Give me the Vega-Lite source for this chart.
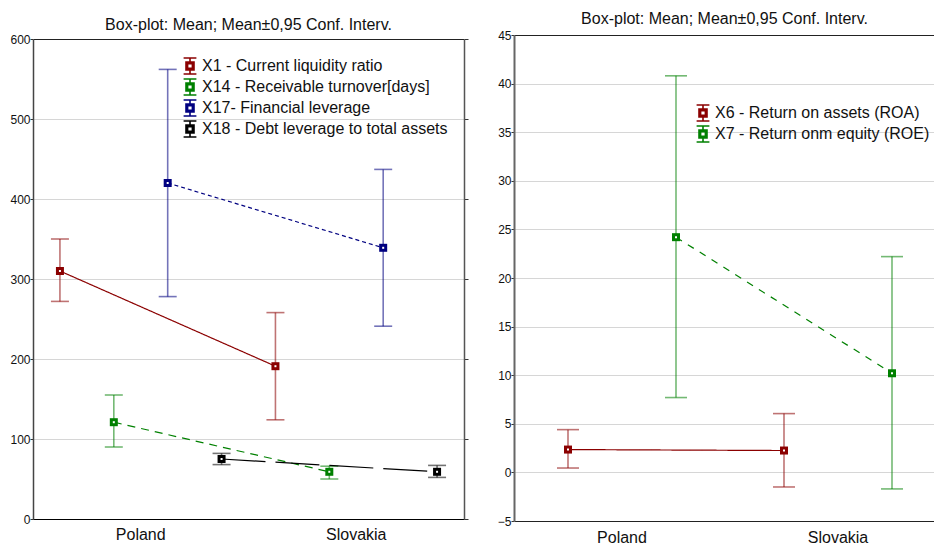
{
  "$schema": "https://vega.github.io/schema/vega-lite/v6.json",
  "background": "white",
  "padding": {"left": 9, "top": 11, "right": 0, "bottom": 0},
  "spacing": 28,
  "config": {
    "font": "Liberation Sans",
    "view": {"stroke": null},
    "axis": {"labelFont": "Liberation Sans", "labelColor": "#111", "tickColor": "#333"},
    "title": {"font": "Liberation Sans", "fontWeight": "normal", "color": "#111"},
    "legend": {"labelFontWeight": "normal"}
  },
  "hconcat": [
    {
      "width": 431,
      "height": 484,
      "title": {"text": "Box-plot: Mean; Mean±0,95 Conf. Interv.", "fontSize": 16, "offset": 4, "dy": 4},
      "data": {"values": [
        {"country": "Poland", "series": "X1 - Current liquidity ratio", "mean": 310, "lo": 272, "hi": 350},
        {"country": "Slovakia", "series": "X1 - Current liquidity ratio", "mean": 191, "lo": 124, "hi": 258},
        {"country": "Poland", "series": "X14 - Receivable turnover[days]", "mean": 121, "lo": 90, "hi": 155},
        {"country": "Slovakia", "series": "X14 - Receivable turnover[days]", "mean": 59, "lo": 50, "hi": 66},
        {"country": "Poland", "series": "X17- Financial leverage", "mean": 420, "lo": 278, "hi": 562},
        {"country": "Slovakia", "series": "X17- Financial leverage", "mean": 339, "lo": 241, "hi": 437},
        {"country": "Poland", "series": "X18 - Debt leverage to total assets", "mean": 75, "lo": 68, "hi": 82},
        {"country": "Slovakia", "series": "X18 - Debt leverage to total assets", "mean": 59, "lo": 52, "hi": 67}
      ]},
      "encoding": {
        "x": {"field": "country", "type": "nominal", "sort": ["Poland", "Slovakia"], "scale": {"paddingInner": 0, "paddingOuter": 0},
              "axis": {"title": null, "labelAngle": 0, "labelFontSize": 16, "tickSize": 0, "labelPadding": 7, "domainColor": "#000", "grid": false}},
        "xOffset": {"field": "series", "type": "nominal", "scale": {"domain": ["X1 - Current liquidity ratio", "X14 - Receivable turnover[days]", "X17- Financial leverage", "X18 - Debt leverage to total assets"], "paddingInner": 0, "paddingOuter": 0}}
      },
      "layer": [
        {
          "mark": {"type": "rule", "strokeWidth": 1.6, "opacity": 0.55},
          "encoding": {
            "y": {"field": "lo", "type": "quantitative", "title": null, "scale": {"domain": [0, 600], "nice": false, "zero": false, "range": [484, 4]},
                  "axis": {"values": [0, 100, 200, 300, 400, 500, 600], "grid": true, "gridColor": {"condition": {"test": "datum.value === 600 || datum.value === 0", "value": "#222"}, "value": "#d6d6d6"}, "labelFontSize": 12, "tickSize": 3, "labelPadding": 0, "domainColor": "#444", "domainWidth": 1.5}},
            "y2": {"field": "hi"},
            "color": {"field": "series", "type": "nominal", "scale": {"domain": ["X1 - Current liquidity ratio", "X14 - Receivable turnover[days]", "X17- Financial leverage", "X18 - Debt leverage to total assets"], "range": ["#8b0000", "#008000", "#000080", "#000000"]},
                      "legend": {"orient": "none", "legendX": 148, "legendY": 22, "title": null, "labelFontSize": 16, "labelColor": "#111", "labelOffset": 3, "rowPadding": -3, "padding": 0, "symbolType": "M-0.5,-0.5H0.5V0.5H-0.5Z M-0.3,-0.3H0.3V0.3H-0.3Z M0,-1V-0.5 M0,0.5V1 M-0.8,-1H0.8 M-0.8,1H0.8", "symbolSize": 256, "symbolStrokeWidth": 1.6, "symbolOpacity": 1, "labelLimit": 400}}
          }
        },
        {
          "mark": {"type": "tick", "orient": "horizontal", "size": 18, "thickness": 1.6, "opacity": 0.55},
          "encoding": {
            "y": {"field": "lo", "type": "quantitative", "title": null, "axis": null},
            "color": {"field": "series", "type": "nominal", "legend": null, "scale": {"domain": ["X1 - Current liquidity ratio", "X14 - Receivable turnover[days]", "X17- Financial leverage", "X18 - Debt leverage to total assets"], "range": ["#8b0000", "#008000", "#000080", "#000000"]}}
          }
        },
        {
          "mark": {"type": "tick", "orient": "horizontal", "size": 18, "thickness": 1.6, "opacity": 0.55},
          "encoding": {
            "y": {"field": "hi", "type": "quantitative", "title": null, "axis": null},
            "color": {"field": "series", "type": "nominal", "legend": null, "scale": {"domain": ["X1 - Current liquidity ratio", "X14 - Receivable turnover[days]", "X17- Financial leverage", "X18 - Debt leverage to total assets"], "range": ["#8b0000", "#008000", "#000080", "#000000"]}}
          }
        },
        {
          "mark": {"type": "line", "strokeWidth": 1.2},
          "encoding": {
            "y": {"field": "mean", "type": "quantitative", "title": null, "axis": null},
            "color": {"field": "series", "type": "nominal", "legend": null, "scale": {"domain": ["X1 - Current liquidity ratio", "X14 - Receivable turnover[days]", "X17- Financial leverage", "X18 - Debt leverage to total assets"], "range": ["#8b0000", "#008000", "#000080", "#000000"]}},
            "strokeDash": {"field": "series", "type": "nominal", "legend": null, "scale": {"domain": ["X1 - Current liquidity ratio", "X14 - Receivable turnover[days]", "X17- Financial leverage", "X18 - Debt leverage to total assets"], "range": [[1, 0], [8, 6], [4, 3], [44, 10]]}}
          }
        },
        {
          "mark": {"type": "point", "shape": "square", "filled": true, "size": 64, "opacity": 1},
          "encoding": {
            "y": {"field": "mean", "type": "quantitative", "title": null, "axis": null},
            "color": {"field": "series", "type": "nominal", "legend": null, "scale": {"domain": ["X1 - Current liquidity ratio", "X14 - Receivable turnover[days]", "X17- Financial leverage", "X18 - Debt leverage to total assets"], "range": ["#8b0000", "#008000", "#000080", "#000000"]}}
          }
        },
        {
          "mark": {"type": "point", "shape": "square", "filled": true, "size": 4, "color": "white", "opacity": 1},
          "encoding": {
            "y": {"field": "mean", "type": "quantitative", "title": null,
                  "axis": {"orient": "right", "values": [0, 100, 200, 300, 400, 500, 600], "labels": false, "tickSize": 4, "tickColor": "#333", "domain": true, "domainColor": "#555", "domainWidth": 1.5, "grid": false}}
          }
        }
      ],
      "resolve": {"scale": {"color": "independent", "strokeDash": "independent"}, "axis": {"y": "independent"}}
    },
    {
      "width": 421,
      "height": 486,
      "title": {"text": "Box-plot: Mean; Mean±0,95 Conf. Interv.", "fontSize": 16, "offset": 4, "dy": 2, "frame": "group"},
      "data": {"values": [
        {"country": "Poland", "series": "X6 - Return on assets (ROA)", "mean": 2.35, "lo": 0.45, "hi": 4.4},
        {"country": "Slovakia", "series": "X6 - Return on assets (ROA)", "mean": 2.25, "lo": -1.5, "hi": 6.05},
        {"country": "Poland", "series": "X7 - Return onm equity (ROE)", "mean": 24.2, "lo": 7.7, "hi": 40.8},
        {"country": "Slovakia", "series": "X7 - Return onm equity (ROE)", "mean": 10.2, "lo": -1.7, "hi": 22.2}
      ]},
      "encoding": {
        "x": {"field": "country", "type": "nominal", "sort": ["Poland", "Slovakia"], "scale": {"paddingInner": 0, "paddingOuter": 0, "range": [0, 432]},
              "axis": {"title": null, "labelAngle": 0, "labelFontSize": 16, "tickSize": 0, "labelPadding": 8, "domain": false, "grid": false}},
        "xOffset": {"field": "series", "type": "nominal", "scale": {"domain": ["X6 - Return on assets (ROA)", "X7 - Return onm equity (ROE)"], "paddingInner": 0, "paddingOuter": 0}}
      },
      "layer": [
        {
          "mark": {"type": "rule", "strokeWidth": 1.6, "opacity": 0.55},
          "encoding": {
            "y": {"field": "lo", "type": "quantitative", "title": null, "scale": {"domain": [-5, 45], "nice": false, "zero": false},
                  "axis": {"values": [-5, 0, 5, 10, 15, 20, 25, 30, 35, 40, 45], "grid": true, "gridColor": {"condition": {"test": "datum.value === 45 || datum.value === -5", "value": "#222"}, "value": "#d6d6d6"}, "labelFontSize": 12, "tickSize": 3, "labelPadding": 0, "domainColor": "#666", "domainWidth": 2}},
            "y2": {"field": "hi"},
            "color": {"field": "series", "type": "nominal", "scale": {"domain": ["X6 - Return on assets (ROA)", "X7 - Return onm equity (ROE)"], "range": ["#8b0000", "#008000"]},
                      "legend": {"orient": "none", "legendX": 180, "legendY": 69, "title": null, "labelFontSize": 16, "labelColor": "#111", "labelOffset": 3, "rowPadding": -4, "padding": 0, "symbolType": "M-0.5,-0.5H0.5V0.5H-0.5Z M-0.3,-0.3H0.3V0.3H-0.3Z M0,-1V-0.5 M0,0.5V1 M-0.8,-1H0.8 M-0.8,1H0.8", "symbolSize": 256, "symbolStrokeWidth": 1.6, "symbolOpacity": 1, "labelLimit": 400}}
          }
        },
        {
          "mark": {"type": "tick", "orient": "horizontal", "size": 22, "thickness": 1.6, "opacity": 0.55},
          "encoding": {
            "y": {"field": "lo", "type": "quantitative", "title": null},
            "color": {"field": "series", "type": "nominal", "legend": null, "scale": {"domain": ["X6 - Return on assets (ROA)", "X7 - Return onm equity (ROE)"], "range": ["#8b0000", "#008000"]}}
          }
        },
        {
          "mark": {"type": "tick", "orient": "horizontal", "size": 22, "thickness": 1.6, "opacity": 0.55},
          "encoding": {
            "y": {"field": "hi", "type": "quantitative", "title": null},
            "color": {"field": "series", "type": "nominal", "legend": null, "scale": {"domain": ["X6 - Return on assets (ROA)", "X7 - Return onm equity (ROE)"], "range": ["#8b0000", "#008000"]}}
          }
        },
        {
          "mark": {"type": "line", "strokeWidth": 1.2},
          "encoding": {
            "y": {"field": "mean", "type": "quantitative", "title": null},
            "color": {"field": "series", "type": "nominal", "legend": null, "scale": {"domain": ["X6 - Return on assets (ROA)", "X7 - Return onm equity (ROE)"], "range": ["#8b0000", "#008000"]}},
            "strokeDash": {"field": "series", "type": "nominal", "legend": null, "scale": {"domain": ["X6 - Return on assets (ROA)", "X7 - Return onm equity (ROE)"], "range": [[1, 0], [7, 7]]}}
          }
        },
        {
          "mark": {"type": "point", "shape": "square", "filled": true, "size": 64, "opacity": 1},
          "encoding": {
            "y": {"field": "mean", "type": "quantitative", "title": null},
            "color": {"field": "series", "type": "nominal", "legend": null, "scale": {"domain": ["X6 - Return on assets (ROA)", "X7 - Return onm equity (ROE)"], "range": ["#8b0000", "#008000"]}}
          }
        },
        {
          "mark": {"type": "point", "shape": "square", "filled": true, "size": 4, "color": "white", "opacity": 1},
          "encoding": {
            "y": {"field": "mean", "type": "quantitative", "title": null}
          }
        }
      ],
      "resolve": {"scale": {"color": "independent", "strokeDash": "independent"}}
    }
  ],
  "resolve": {"scale": {"color": "independent", "strokeDash": "independent", "x": "independent", "xOffset": "independent", "y": "independent"}}
}
